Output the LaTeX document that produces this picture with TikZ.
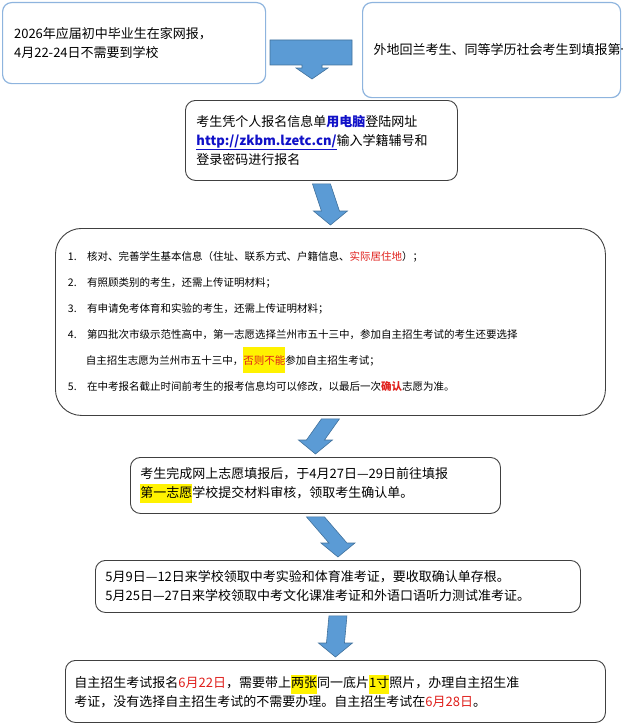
\documentclass[tikz,border=0pt]{standalone}
\usepackage{fontspec}
\setmainfont{Noto Sans CJK SC}
\usetikzlibrary{arrows.meta,calc}
\definecolor{boxblue}{HTML}{8EB4DE}
\definecolor{arrowblue}{HTML}{5B9BD5}
\definecolor{arrowedge}{HTML}{41719C}
\definecolor{hired}{HTML}{E0201C}
\definecolor{linkblue}{HTML}{1010C8}
\newcommand{\hl}[1]{{\fboxsep=0pt\colorbox{yellow}{\strut #1}}}
\newcommand{\rd}[1]{\textcolor{hired}{#1}}

\begin{document}
\begin{tikzpicture}[x=1pt,y=-1pt,
  blue box/.style={draw=boxblue,line width=1.2pt,rounded corners=9pt,fill=white,font=\fontsize{13}{19}\selectfont,align=left,inner sep=8pt},
  black box/.style={draw=black!75,line width=0.9pt,rounded corners=10pt,fill=white,font=\fontsize{13}{19}\selectfont,align=left,inner sep=8pt},
  down arrow/.style={draw=arrowedge,line width=0.6pt,fill=arrowblue}]

 \useasboundingbox (0,0) rectangle (622,725);

 \node[blue box,minimum width=263pt,minimum height=81pt,text width=240pt,anchor=north west] (home) at (2,2)
   {2026年应届初中毕业生在家网报，\\4月22-24日不需要到学校};
 \node[blue box,minimum width=258pt,minimum height=95pt,text width=236pt,anchor=north west] (away) at (362,2)
   {外地回兰考生、同等学历社会考生到填报第一志愿学校现场采集照片，领取个人报名信息单};
 \node[black box,minimum width=272pt,minimum height=80pt,text width=250pt,anchor=north west] (login) at (185,100)
   {考生凭个人报名信息单\textcolor{linkblue}{\bfseries 用电脑}登陆网址\\
    \textcolor{linkblue}{\bfseries\underline{http://zkbm.lzetc.cn/}}输入学籍辅号和\\登录密码进行报名};
 \node[black box,rounded corners=26pt,minimum width=550pt,minimum height=187pt,text width=525pt,anchor=north west,
   font=\fontsize{10.5}{26}\selectfont] (check) at (55,228)
   {1.\quad 核对、完善学生基本信息（住址、联系方式、户籍信息、\rd{实际居住地}）；\\
    2.\quad 有照顾类别的考生，还需上传证明材料；\\
    3.\quad 有申请免考体育和实验的考生，还需上传证明材料；\\
    4.\quad 第四批次市级示范性高中，第一志愿选择兰州市五十三中，参加自主招生考试的考生还要选择\\
    \hspace*{18pt}自主招生志愿为兰州市五十三中，\hl{\rd{否则不能}}参加自主招生考试；\\
    5.\quad 在中考报名截止时间前考生的报考信息均可以修改，以最后一次\rd{\bfseries 确认}志愿为准。};
 \node[black box,minimum width=370pt,minimum height=56pt,text width=350pt,anchor=north west] (confirm) at (130,457)
   {考生完成网上志愿填报后，于4月27日—29日前往填报\\\hl{第一志愿}学校提交材料审核，领取考生确认单。};
 \node[black box,minimum width=485pt,minimum height=52pt,text width=465pt,anchor=north west] (ticket) at (95,560)
   {5月9日—12日来学校领取中考实验和体育准考证，要收取确认单存根。\\
    5月25日—27日来学校领取中考文化课准考证和外语口语听力测试准考证。};
 \node[black box,minimum width=540pt,minimum height=62pt,text width=522pt,anchor=north west] (exam) at (65,660)
   {自主招生考试报名\rd{6月22日}，需要带上\hl{两张}同一底片\hl{1寸}照片，办理自主招生准\\
    考证，没有选择自主招生考试的不需要办理。自主招生考试在\rd{6月28日}。};

 % block arrows
 \draw[down arrow] (270,40) -- (352,40) -- (352,65) -- (322,65) -- (322,68) -- (328,68)
   -- (312,79) -- (296,68) -- (302,68) -- (302,65) -- (270,65) -- cycle;
 \foreach \a/\b in {login/check,check/confirm,confirm/ticket,ticket/exam}{
   \path (\a.south) ++(0,3) coordinate (s) (\b.north) ++(0,-3) coordinate (e);
   \draw[down arrow] ($(s)+(-9,0)$) -- ($(s)+(9,0)$) -- ($(e)+(9,-14)$) -- ($(e)+(17,-14)$)
     -- (e) -- ($(e)+(-17,-14)$) -- ($(e)+(-9,-14)$) -- cycle;
 }
\end{tikzpicture}
\end{document}
